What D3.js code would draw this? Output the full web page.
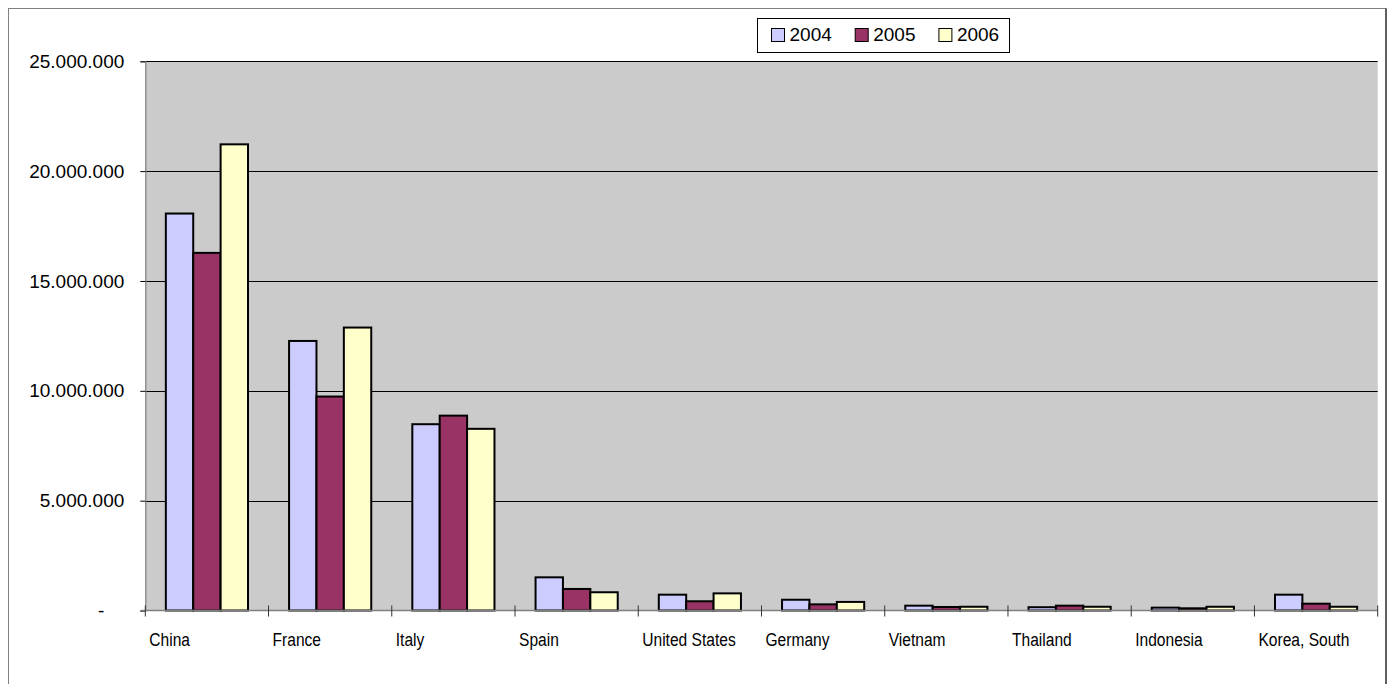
<!DOCTYPE html>
<html>
<head>
<meta charset="utf-8">
<script src="https://cdn.jsdelivr.net/npm/d3@7"></script>
<style>
  html, body { margin: 0; padding: 0; background: #fff; }
  svg { display: block; font-family: Arial, "Liberation Sans", sans-serif; }
</style>
</head>
<body>
<svg id="chart" width="1390" height="684"></svg>
<script>
// Countries shown along the x axis
const countries = ["China", "France", "Italy", "Spain", "United States", "Germany",
                   "Vietnam", "Thailand", "Indonesia", "Korea, South"];
const years = ["2004", "2005", "2006"];

// Values per year, one entry per country
const values2004 = [18070000, 12270000, 8480000, 1510000, 720000, 490000, 220000, 150000, 130000, 720000];
const values2005 = [16280000, 9740000, 8870000, 980000, 420000, 280000, 160000, 220000, 100000, 310000];
const values2006 = [21220000, 12880000, 8270000, 830000, 780000, 390000, 170000, 170000, 170000, 170000];

const yTicks = [0, 5000000, 10000000, 15000000, 20000000, 25000000];
const colors = ["#CCCCFF", "#993366", "#FFFFCC"];

const series = [values2004, values2005, values2006];
const rows = countries.map((c, i) => ({
  country: c,
  vals: years.map((y, k) => ({ year: y, value: series[k][i], color: colors[k] }))
}));

const svg = d3.select("#chart");
const W = 1390, H = 684;
const plot = { left: 145.3, right: 1377.7, top: 61.3, bottom: 610.5 };

// Chart area frame
svg.append("rect")
  .attr("x", 8.5).attr("y", 8.5).attr("width", 1377.5).attr("height", 690)
  .attr("fill", "#fff").attr("stroke", "#808080").attr("stroke-width", 1);
svg.append("line")
  .attr("x1", 1386).attr("x2", 1386).attr("y1", 8.5).attr("y2", H)
  .attr("stroke", "#000").attr("stroke-width", 1);

const x = d3.scaleBand().domain(countries).range([plot.left, plot.right]).padding(0);
const xInner = d3.scaleBand().domain(years).range([0, x.bandwidth()])
  .paddingInner(0).paddingOuter(0.75);
const y = d3.scaleLinear().domain([0, 25000000]).range([plot.bottom, plot.top]);

const locale = d3.formatLocale({ decimal: ",", thousands: ".", grouping: [3], currency: ["", ""] });
const fmt = locale.format(",.0f");

// Plot background
svg.append("rect")
  .attr("x", plot.left).attr("y", plot.top)
  .attr("width", plot.right - plot.left).attr("height", plot.bottom - plot.top)
  .attr("fill", "#CBCBCB");

// Horizontal gridlines
svg.append("g").selectAll("line")
  .data(yTicks.filter(d => d > 0))
  .join("line")
  .attr("x1", plot.left).attr("x2", plot.right)
  .attr("y1", d => Math.round(y(d)) + 0.5).attr("y2", d => Math.round(y(d)) + 0.5)
  .attr("stroke", "#000").attr("stroke-width", 1);

// Bars
const groups = svg.append("g").selectAll("g")
  .data(rows)
  .join("g")
  .attr("transform", d => `translate(${x(d.country)},0)`);

groups.selectAll("rect")
  .data(d => d.vals)
  .join("rect")
  .attr("x", d => xInner(d.year))
  .attr("y", d => y(d.value))
  .attr("width", xInner.bandwidth())
  .attr("height", d => y(0) - y(d.value))
  .attr("fill", d => d.color)
  .attr("stroke", "#000")
  .attr("stroke-width", 2);

// Y axis
const yAxis = d3.axisLeft(y)
  .tickValues(yTicks)
  .tickSize(5)
  .tickPadding(16)
  .tickFormat(d => d === 0 ? "-" : fmt(d));
const gy = svg.append("g")
  .attr("transform", `translate(${plot.left},0)`)
  .call(yAxis);
gy.select(".domain").attr("stroke", "#808080").attr("stroke-width", 1.2);
gy.selectAll(".tick line").attr("stroke", "#000");
gy.selectAll(".tick text")
  .attr("font-size", 19)
  .attr("fill", "#000")
  .attr("font-family", "Arial, 'Liberation Sans', sans-serif");
gy.selectAll(".tick").filter(d => d === 0).select("text").attr("x", -41);

// X axis baseline with category boundary ticks
svg.append("line")
  .attr("x1", plot.left - 4).attr("x2", plot.right)
  .attr("y1", plot.bottom).attr("y2", plot.bottom)
  .attr("stroke", "#808080").attr("stroke-width", 1.5);

const boundaries = countries.map(c => x(c)).concat([plot.right]);
svg.append("g").selectAll("line")
  .data(boundaries)
  .join("line")
  .attr("x1", d => d).attr("x2", d => d)
  .attr("y1", plot.bottom - 5).attr("y2", plot.bottom + 6)
  .attr("stroke", "#333").attr("stroke-width", 1);

// Category labels
svg.append("g").selectAll("text")
  .data(countries)
  .join("text")
  .attr("transform", d => `translate(${x(d) + 4},646) scale(0.82,1)`)
  .attr("font-size", 19)
  .attr("fill", "#000")
  .text(d => d);

// Legend
const legend = svg.append("g");
legend.append("rect")
  .attr("x", 757.5).attr("y", 18.5).attr("width", 252).attr("height", 34)
  .attr("fill", "#fff").attr("stroke", "#000").attr("stroke-width", 1);
const items = legend.selectAll("g")
  .data(years)
  .join("g")
  .attr("transform", (d, i) => `translate(${771 + i * 83.7},0)`);
items.append("rect")
  .attr("x", 0.5).attr("y", 28.5).attr("width", 13).attr("height", 13)
  .attr("fill", (d, i) => colors[i]).attr("stroke", "#000").attr("stroke-width", 1);
items.append("text")
  .attr("x", 18.5).attr("y", 41)
  .attr("font-size", 19)
  .attr("fill", "#000")
  .text(d => d);
</script>
</body>
</html>
